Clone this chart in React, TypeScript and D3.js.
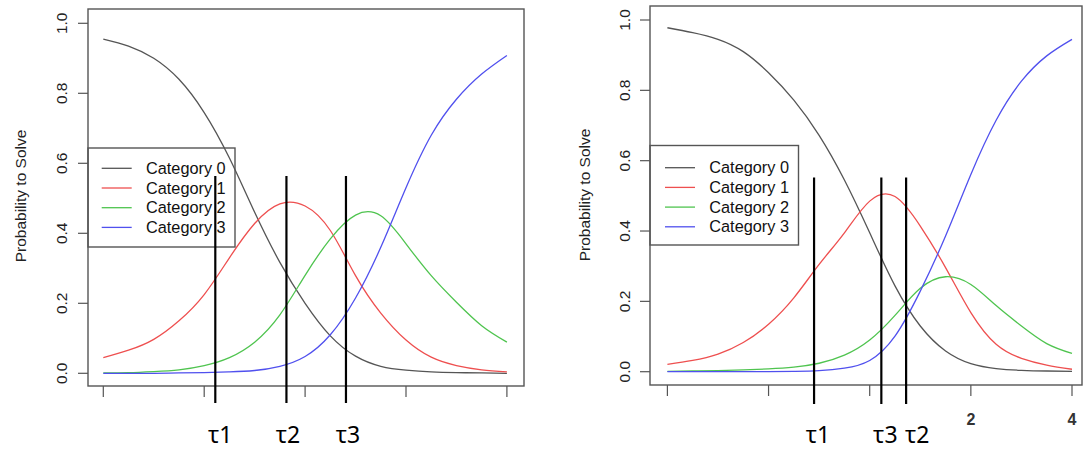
import React from "react";
import * as d3 from "d3";

// ---------- data ----------
const THETA = [-4, -3.5, -3, -2.5, -2, -1.5, -1, -0.5, 0, 0.5, 1, 1.5, 2, 2.5, 3, 3.5, 4];

const LEFT_CAT0 = [0.955, 0.935, 0.9, 0.84, 0.745, 0.615, 0.46, 0.317, 0.2, 0.107, 0.049, 0.02, 0.009, 0.004, 0.002, 0.001, 0.0];
const LEFT_CAT1 = [0.045, 0.066, 0.097, 0.15, 0.225, 0.33, 0.428, 0.484, 0.478, 0.408, 0.279, 0.172, 0.095, 0.046, 0.022, 0.01, 0.004];
const LEFT_CAT2 = [0.001, 0.002, 0.005, 0.01, 0.022, 0.045, 0.089, 0.167, 0.28, 0.384, 0.452, 0.45, 0.37, 0.279, 0.203, 0.136, 0.089];
const LEFT_CAT3 = [0.0, 0.0, 0.0, 0.001, 0.002, 0.004, 0.008, 0.02, 0.048, 0.11, 0.215, 0.36, 0.53, 0.68, 0.783, 0.855, 0.908];

const RIGHT_CAT0 = [0.978, 0.964, 0.945, 0.91, 0.85, 0.772, 0.672, 0.545, 0.395, 0.244, 0.13, 0.059, 0.023, 0.009, 0.004, 0.002, 0.001];
const RIGHT_CAT1 = [0.021, 0.032, 0.05, 0.083, 0.135, 0.21, 0.305, 0.395, 0.485, 0.498, 0.414, 0.296, 0.168, 0.078, 0.038, 0.019, 0.007];
const RIGHT_CAT2 = [0.001, 0.002, 0.003, 0.005, 0.008, 0.013, 0.024, 0.047, 0.09, 0.16, 0.237, 0.27, 0.248, 0.188, 0.13, 0.08, 0.052];
const RIGHT_CAT3 = [0.0, 0.0, 0.0, 0.0, 0.0, 0.001, 0.003, 0.01, 0.032, 0.101, 0.229, 0.386, 0.561, 0.715, 0.826, 0.898, 0.945];

const CATEGORY_LABELS = ["Category 0", "Category 1", "Category 2", "Category 3"];

const LEFT_TAU = [-1.78, -0.37, 0.81];
const LEFT_TAU_LABELS = ["τ1", "τ2", "τ3"];
const RIGHT_TAU = [-1.1, 0.23, 0.72];
const RIGHT_TAU_LABELS = ["τ1", "τ3", "τ2"];

const X_TICKS = [-4, -2, 0, 2, 4];
const LEFT_X_TICK_LABELS = ["", "", "", "", ""];
const RIGHT_X_TICK_LABELS = ["", "", "", "2", "4"];
const Y_TICKS = [0, 0.2, 0.4, 0.6, 0.8, 1.0];
const Y_TICK_LABELS = ["0.0", "0.2", "0.4", "0.6", "0.8", "1.0"];
const Y_TITLE = "Probability to Solve";

// ---------- styles ----------
const CURVE_COLORS = ["#555555", "#ee4f4f", "#4fc44f", "#5050ee"];
const FONT = "'Liberation Sans', Arial, sans-serif";

type Layout = {
  box: [number, number, number, number];
  xRange: [number, number];
  yRange: [number, number];
  yTickLabelX: number;
  yTitleX: number;
  yTitleY: number;
  legend: { x: number; y: number; w: number; h: number; l0: number; l1: number; tx: number; r0: number; step: number };
  tauTop: number;
  tauBottom: number;
  tauLabelDx: number[];
};

const LEFT_LAYOUT: Layout = {
  box: [88, 9, 524, 386],
  xRange: [103.3, 506.9],
  yRange: [373.3, 23.3],
  yTickLabelX: 67,
  yTitleX: 26,
  yTitleY: 196,
  legend: { x: 88, y: 148, w: 147, h: 99, l0: 101.7, l1: 131.7, tx: 146, r0: 168.3, step: 19.7 },
  tauTop: 176,
  tauBottom: 403,
  tauLabelDx: [5, 1.5, 2],
};

const RIGHT_LAYOUT: Layout = {
  box: [650, 6, 1082, 385],
  xRange: [667.4, 1072],
  yRange: [371.7, 20],
  yTickLabelX: 630,
  yTitleX: 590,
  yTitleY: 195,
  legend: { x: 650, y: 145.5, w: 148.5, h: 99.5, l0: 665, l1: 695, tx: 709.3, r0: 167.7, step: 19.7 },
  tauTop: 177.5,
  tauBottom: 404,
  tauLabelDx: [4, 4, 11],
};

function Panel({
  layout,
  series,
  tau,
  tauLabels,
  xTickLabels,
}: {
  layout: Layout;
  series: number[][];
  tau: number[];
  tauLabels: string[];
  xTickLabels: string[];
}) {
  const x = d3.scaleLinear().domain([-4, 4]).range(layout.xRange);
  const y = d3.scaleLinear().domain([0, 1]).range(layout.yRange);
  const line = d3
    .line<number>()
    .x((_, i) => x(THETA[i]))
    .y((d) => y(d))
    .curve(d3.curveNatural);
  const [bx0, by0, bx1, by1] = layout.box;
  const L = layout.legend;
  return (
    <g>
      {series.map((s, i) => (
        <path key={i} d={line(s) || ""} fill="none" stroke={CURVE_COLORS[i]} strokeWidth={1.3} />
      ))}
      <rect x={bx0} y={by0} width={bx1 - bx0} height={by1 - by0} fill="none" stroke="#555" strokeWidth={1.4} />
      {/* y axis */}
      {Y_TICKS.map((t, i) => (
        <g key={i}>
          <line x1={bx0 - 10} x2={bx0} y1={y(t)} y2={y(t)} stroke="#555" strokeWidth={1.2} />
          <text
            transform={`translate(${layout.yTickLabelX},${y(t)}) rotate(-90)`}
            textAnchor="middle"
            fontSize={15.5}
            fontFamily={FONT}
            fill="#222"
          >
            {Y_TICK_LABELS[i]}
          </text>
        </g>
      ))}
      <text
        transform={`translate(${layout.yTitleX},${layout.yTitleY}) rotate(-90)`}
        textAnchor="middle"
        fontSize={15.5}
        fontFamily={FONT}
        fill="#222"
      >
        {Y_TITLE}
      </text>
      {/* x axis */}
      {X_TICKS.map((t, i) => (
        <g key={i}>
          <line x1={x(t)} x2={x(t)} y1={by1} y2={by1 + 11} stroke="#555" strokeWidth={1.2} />
          {xTickLabels[i] ? (
            <text x={x(t)} y={by1 + 40} textAnchor="middle" fontSize={16} fontWeight="bold" fontFamily={FONT} fill="#333">
              {xTickLabels[i]}
            </text>
          ) : null}
        </g>
      ))}
      {/* legend */}
      <rect x={L.x} y={L.y} width={L.w} height={L.h} fill="none" stroke="#555" strokeWidth={1.4} />
      {CATEGORY_LABELS.map((lab, i) => (
        <g key={i}>
          <line x1={L.l0} x2={L.l1} y1={L.r0 + i * L.step} y2={L.r0 + i * L.step} stroke={CURVE_COLORS[i]} strokeWidth={1.3} />
          <text x={L.tx} y={L.r0 + i * L.step + 5.5} fontSize={16.3} fontFamily={FONT} fill="#111">
            {lab}
          </text>
        </g>
      ))}
      {/* tau lines */}
      {tau.map((t, i) => (
        <g key={i}>
          <line x1={x(t)} x2={x(t)} y1={layout.tauTop} y2={layout.tauBottom} stroke="#000" strokeWidth={2.2} />
          <text x={x(t) + layout.tauLabelDx[i]} y={443} textAnchor="middle" fontSize={23} fontFamily="'Noto Sans', sans-serif" fill="#000">
            {tauLabels[i]}
          </text>
        </g>
      ))}
    </g>
  );
}

export default function App() {
  return (
    <svg
      width={1083}
      height={450}
      style={{ position: "absolute", left: 0, top: 0, background: "#fff" }}
    >
      <rect x={0} y={0} width={1083} height={450} fill="#fff" />
      <Panel
        layout={LEFT_LAYOUT}
        series={[LEFT_CAT0, LEFT_CAT1, LEFT_CAT2, LEFT_CAT3]}
        tau={LEFT_TAU}
        tauLabels={LEFT_TAU_LABELS}
        xTickLabels={LEFT_X_TICK_LABELS}
      />
      <Panel
        layout={RIGHT_LAYOUT}
        series={[RIGHT_CAT0, RIGHT_CAT1, RIGHT_CAT2, RIGHT_CAT3]}
        tau={RIGHT_TAU}
        tauLabels={RIGHT_TAU_LABELS}
        xTickLabels={RIGHT_X_TICK_LABELS}
      />
    </svg>
  );
}
